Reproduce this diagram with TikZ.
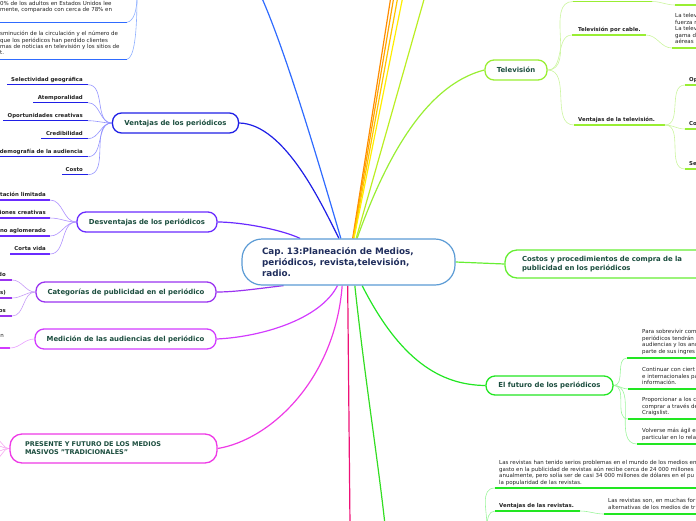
\documentclass[tikz,border=0pt]{standalone}
\usepackage{fontspec}
\setmainfont{DejaVu Sans}
\usetikzlibrary{backgrounds}
\frenchspacing
\definecolor{cblue}{HTML}{5B9BD5}
\definecolor{cnavy}{HTML}{1F2D5C}
\definecolor{ttl}{HTML}{1B4D3E}
\definecolor{txt}{HTML}{222222}
\definecolor{ctop}{HTML}{2F6BFF}
\definecolor{ctoplight}{HTML}{8FB0FF}
\definecolor{vblue}{HTML}{1F1FE6}
\definecolor{vlight}{HTML}{9494FF}
\definecolor{dviol}{HTML}{6A2BFF}
\definecolor{dlight}{HTML}{AE90FF}
\definecolor{catv}{HTML}{9A33F0}
\definecolor{catlight}{HTML}{C79CF7}
\definecolor{medv}{HTML}{D23BFF}
\definecolor{medlight}{HTML}{E9A0FF}
\definecolor{presm}{HTML}{EE3AE6}
\definecolor{preslight}{HTML}{F6A6F0}
\definecolor{redm}{HTML}{EE1177}
\definecolor{gdown}{HTML}{33DD22}
\definecolor{futg}{HTML}{22E622}
\definecolor{futlight}{HTML}{9CF59C}
\definecolor{costg}{HTML}{66EE33}
\definecolor{tvg}{HTML}{99EE33}
\definecolor{tvlight}{HTML}{CCF5A0}
\definecolor{orA}{HTML}{FF8C00}
\definecolor{orB}{HTML}{FFA500}
\definecolor{orC}{HTML}{FFC400}
\definecolor{yel}{HTML}{FFEE00}
\definecolor{ygr}{HTML}{BBEE22}
\newcommand\tblock[6]{%
  \foreach \l [count=\k] in {#6} {\node[#5, anchor=base west] (#1\k) at ({#2},{-(#3)-(#4)*(\k-1)}) {\l};}}
\begin{document}
\begin{tikzpicture}[x=1pt,y=1pt,
  box/.style={draw, rounded corners=9pt, line width=1.3pt, fill=white, text=ttl,
    font=\bfseries\fontsize{6.9}{8.2}\selectfont, inner sep=0pt},
  lbl/.style={font=\bfseries\fontsize{5.4}{6.4}\selectfont, text=txt, inner sep=0pt},
  para/.style={font=\fontsize{5.5}{6.4}\selectfont, text=txt, inner sep=0pt},
  ul/.style={line width=1.2pt},
  tw/.style={line width=0.6pt},
  hub/.style={line width=1.2pt}]
\useasboundingbox (0,0) rectangle (696,-520);
\clip (0,0) rectangle (696,-520);

% ---------- main boxes ----------
\node[box, draw=cblue, line width=1.2pt, rounded corners=20pt, minimum width=213pt,
  minimum height=46pt, text width=173pt, align=left, text=cnavy,
  font=\bfseries\fontsize{8.8}{11}\selectfont] (c) at (348.5,-262)
  {Cap. 13:Planeación de Medios,\\periódicos, revista,televisión,\\radio.};
\node[box, draw=vblue, minimum width=126pt, minimum height=20pt] (vent) at (175.5,-123) {Ventajas de los periódicos};
\node[box, draw=dviol, minimum width=140pt, minimum height=20pt] (desv) at (147,-222) {Desventajas de los periódicos};
\node[box, draw=catv, minimum width=180pt, minimum height=20pt] (cat) at (126,-292) {Categorías de publicidad en el periódico};
\node[box, draw=medv, minimum width=181pt, minimum height=20pt] (med) at (125.5,-339) {Medición de las audiencias del periódico};
\node[box, draw=presm, rounded corners=12pt, minimum width=207pt, minimum height=29pt, text width=177pt,
  align=left, font=\bfseries\fontsize{6.5}{8}\selectfont] (pres) at (113.5,-448.5)
  {PRESENTE Y FUTURO DE LOS MEDIOS\\MASIVOS "TRADICIONALES"};
\node[box, draw=tvg, minimum width=62pt, minimum height=20pt] (tv) at (516,-70) {Televisión};
\node[box, draw=costg, rounded corners=12pt, minimum width=210pt, minimum height=28pt, text width=176pt,
  align=left] (cost) at (610,-264) {Costos y procedimientos de compra de la\\publicidad en los periódicos};
\node[box, draw=futg, minimum width=127pt, minimum height=19pt] (fut) at (549.5,-385.5) {El futuro de los periódicos};

% ---------- free ends ----------
\coordinate (topA) at (261,4);
\coordinate (oA) at (391,4);
\coordinate (oB) at (394,4);
\coordinate (oC) at (398,4);
\coordinate (oD) at (403,4);
\coordinate (oE) at (425,4);
\coordinate (redE) at (350,-525);
\coordinate (gE) at (385,-525);
\coordinate (ap) at (137,4);
\coordinate (rp) at (487,-526);

% ---------- top-left texts ----------
\coordinate (a1a) at (-2,-22.3); \coordinate (a1b) at (127,-22.3);
\coordinate (b1a) at (-2,-59.3); \coordinate (b1b) at (127,-59.3);
\tblock{pa}{0}{5.1}{6.1}{para}{{0\% de los adultos en Estados Unidos lee},{mente, comparado con cerca de 78\% en}}
\tblock{pb}{0}{35.8}{6.2}{para}{{sminución de la circulación y el número de},{que los periódicos han perdido clientes},{mas de noticias en televisión y los sitios de},{t.}}

% ---------- Ventajas leaves ----------
\foreach \n/\y/\xa/\t in {1/84.7/7/{Selectividad geográfica}, 2/102.7/33/Atemporalidad,
   3/120.7/3/{Oportunidades creativas}, 4/138.7/41/Credibilidad,
   5/156.7/-2/{demografía de la audiencia}, 6/174.7/62/Costo}{
  \coordinate (va\n) at (\xa,-\y);
  \coordinate (vb\n) at (88,-\y);
  \node[lbl, anchor=base east] (vl\n) at (83,{-\y+3.4}) {\t};
}
% ---------- Desventajas leaves ----------
\foreach \n/\y/\xa/\t in {1/200/-2/{tación limitada}, 2/218/-2/{iones creativas},
   3/236/-2/{no aglomerado}, 4/254/10/{Corta vida}}{
  \coordinate (da\n) at (\xa,-\y);
  \coordinate (db\n) at (50,-\y);
  \node[lbl, anchor=base east] (dl\n) at (46,{-\y+3.4}) {\t};
}
% ---------- Categorias leaves ----------
\foreach \n/\y/\t in {1/280/do, 2/298/{s)}, 3/316/os}{
  \coordinate (ca\n) at (-2,-\y);
  \coordinate (cb\n) at (12,-\y);
  \node[lbl, anchor=base east] (cl\n) at (6,{-\y+3.6}) {\t};
}
% ---------- Medicion leaf ----------
\coordinate (ma) at (-2,-348); \coordinate (mb) at (10,-348);
\node[para, anchor=base east] (ml) at (4,-337) {n};
% ---------- Presente ends ----------
\coordinate (pe1) at (-6,-438); \coordinate (pe2) at (-6,-445);
\coordinate (pe3) at (-6,-452); \coordinate (pe4) at (-6,-460);

% ---------- Television ----------
\coordinate (t1a) at (573,-1.5); \coordinate (t1b) at (652,-1.5);
\coordinate (t1c) at (675,-5);   \coordinate (t1d) at (700,-5);
\coordinate (t2a) at (572,-35);  \coordinate (t2b) at (646,-35);
\coordinate (t2c) at (672,-48);  \coordinate (t2d) at (700,-48);
\coordinate (t3a) at (574,-125); \coordinate (t3b) at (665,-125);
\node[lbl, anchor=base west] (t2l) at (578,-31.3) {Televisión por cable.};
\node[lbl, anchor=base west] (t3l) at (578,-121.3) {Ventajas de la televisión.};
\tblock{ptc}{675}{17.8}{6.5}{para}{La telev,fuerza r,La telev,gama d,aéreas}
\foreach \n/\y/\t in {1/85/Op, 2/129/Co, 3/169/Se}{
  \coordinate (ga\n) at (685,-\y);
  \coordinate (gb\n) at (700,-\y);
  \node[lbl, anchor=base west] (gl\n) at (689,{-\y+3.7}) {\t};
}

% ---------- El futuro ----------
\coordinate (f1a) at (627,-358); \coordinate (f1b) at (700,-358);
\coordinate (f2a) at (628,-389); \coordinate (f2b) at (700,-389);
\coordinate (f3a) at (628,-419); \coordinate (f3b) at (700,-419);
\coordinate (f4a) at (637,-444); \coordinate (f4b) at (700,-444);
\tblock{pf1}{642}{333.8}{6.5}{para}{Para sobrevivir com,periódicos tendrán,audiencias y los anu,parte de sus ingres}
\tblock{pf2}{642}{371.8}{6.5}{para}{Continuar con ciert,e internacionales pa,información.}
\tblock{pf3}{642}{401.8}{6.5}{para}{Proporcionar a los c,comprar a través de,Craigslist.}
\tblock{pf4}{642}{432.8}{6.5}{para}{Volverse más ágil e,particular en lo rela}

% ---------- Revistas ----------
\coordinate (r0a) at (495,-488); \coordinate (r0b) at (700,-488);
\coordinate (r1a) at (495,-511); \coordinate (r1b) at (580,-511);
\coordinate (r2a) at (604,-514); \coordinate (r2b) at (700,-514);
\tblock{pr}{499}{464.8}{6.5}{para}{Las revistas han tenido serios problemas en el mundo de los medios en,gasto en la publicidad de revistas aún recibe cerca de 24 000 millones,{anualmente, pero solía ser de casi 34 000 millones de dólares en el pu},la popularidad de las revistas.}
\node[lbl, anchor=base west] (rvl) at (499,-507.3) {Ventajas de las revistas.};
\tblock{prv}{608}{502.8}{6.5}{para}{{Las revistas son, en muchas for},alternativas de los medios de tr}

% ---------- connectors ----------
\begin{scope}[on background layer]
  \draw[hub, ctop] (c.108) .. controls (315,-150) and (285,-50) .. (topA);
  \draw[hub, vblue] (c.112) .. controls (322,-205) and (285,-124) .. (vent.east);
  \draw[hub, dviol] (c.154) .. controls (280,-229) and (240,-222) .. (desv.east);
  \draw[hub, catv] (c.200) .. controls (255,-289) and (235,-292) .. (cat.east);
  \draw[hub, medv] (c.245) .. controls (320,-320) and (260,-337) .. (med.east);
  \draw[hub, presm] (c.255) .. controls (335,-380) and (270,-440) .. (pres.east);
  \draw[hub, redm] (c.268) -- (redE);
  \draw[hub, gdown] (c.285) .. controls (365,-380) and (378,-460) .. (gE);
  \draw[hub, futg] (c.300) .. controls (400,-360) and (440,-385) .. (fut.west);
  \draw[hub, costg] (c.0) -- (cost.west);
  \draw[hub, tvg] (c.70) .. controls (385,-160) and (425,-85) .. (tv.west);
  \draw[hub, orA] (c.80) -- (oA);
  \draw[hub, orB] (c.79) -- (oB);
  \draw[hub, orC] (c.78) -- (oC);
  \draw[hub, yel] (c.77) -- (oD);
  \draw[hub, ygr] (c.72) -- (oE);
  % top-left
  \draw[ul, ctop] (a1a) -- (a1b);
  \draw[ul, ctop] (b1a) -- (b1b);
  \draw[tw, ctoplight] (a1b) .. controls (134,-21) and (137,-10) .. (ap);
  \draw[tw, ctoplight] (b1b) .. controls (134,-58) and (137,-35) .. (ap);
  % ventajas
  \foreach \n in {1,...,6}{
    \draw[ul, vblue] (va\n) -- (vb\n);
    \draw[tw, vlight] (vent.west) to[out=180,in=0] (vb\n);}
  \foreach \n in {1,...,4}{
    \draw[ul, dviol] (da\n) -- (db\n);
    \draw[tw, dlight] (desv.west) to[out=180,in=0] (db\n);}
  \foreach \n in {1,...,3}{
    \draw[ul, catv] (ca\n) -- (cb\n);
    \draw[tw, catlight] (cat.west) to[out=180,in=0] (cb\n);}
  \draw[ul, medv] (ma) -- (mb);
  \draw[tw, medlight] (med.west) to[out=180,in=0] (mb);
  \foreach \n in {1,...,4}{
    \draw[tw, preslight] (pres.west) to[out=180,in=0] (pe\n);}
  % television
  \draw[tw, tvlight] (tv.east) to[out=0,in=180] (t1a);
  \draw[tw, tvlight] (tv.east) to[out=0,in=180] (t2a);
  \draw[tw, tvlight] (tv.east) to[out=0,in=180] (t3a);
  \draw[ul, tvg] (t1a) -- (t1b);
  \draw[ul, tvg] (t2a) -- (t2b);
  \draw[ul, tvg] (t3a) -- (t3b);
  \draw[tw, tvlight] (t1b) to[out=0,in=180] (t1c);
  \draw[tw, tvlight] (t2b) to[out=0,in=180] (t2c);
  \draw[ul, tvg] (t1c) -- (t1d);
  \draw[ul, tvg] (t2c) -- (t2d);
  \foreach \n in {1,2,3}{
    \draw[tw, tvlight] (t3b) to[out=0,in=180] (ga\n);
    \draw[ul, tvg] (ga\n) -- (gb\n);}
  % futuro
  \foreach \n in {1,...,4}{
    \draw[tw, futlight] (fut.east) to[out=0,in=180] (f\n a);
    \draw[ul, futg] (f\n a) -- (f\n b);}
  % revistas
  \draw[tw, futlight] (rp) to[out=90,in=180] (r0a);
  \draw[tw, futlight] (rp) to[out=90,in=180] (r1a);
  \draw[ul, futg] (r0a) -- (r0b);
  \draw[ul, futg] (r1a) -- (r1b);
  \draw[tw, futlight] (r1b) to[out=0,in=180] (r2a);
  \draw[ul, futg] (r2a) -- (r2b);
\end{scope}
\end{tikzpicture}
\end{document}
